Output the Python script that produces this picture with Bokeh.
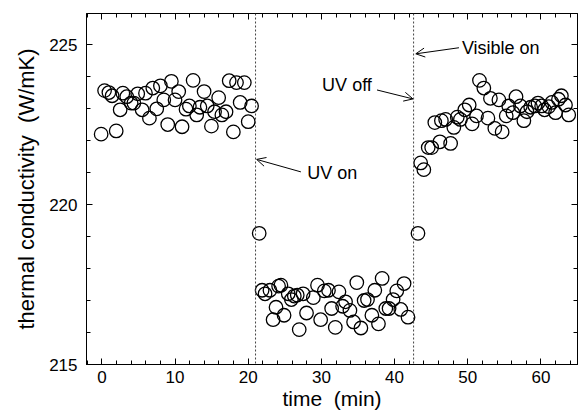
from bokeh.plotting import figure
from bokeh.models import (Range1d, LinearAxis, SingleIntervalTicker, Span, Arrow,
                          OpenHead, Label, ColumnDataSource, CustomJSTickFormatter)
from bokeh.embed import file_html
from bokeh.resources import INLINE

# ---- data ----
time_min = [
    -0.1, 0.37, 0.96, 1.4, 1.96, 2.5, 2.87, 3.4, 4.0, 4.37, 4.9, 5.5, 5.96, 6.5, 6.96,
    7.5, 8.0, 8.46, 9.0, 9.5, 10.0, 10.5, 10.96, 11.5, 11.96, 12.47, 12.96, 13.4, 13.97,
    14.4, 14.97, 15.4, 15.96, 16.4, 16.97, 17.4, 17.97, 18.4, 18.9, 19.47, 20.0, 20.46,
    21.5,
    21.9, 22.3, 22.97, 23.4, 23.8, 24.15, 24.47, 24.9, 25.47, 25.9, 26.3, 26.7, 26.97,
    27.5, 27.97, 28.9, 29.47, 29.9, 30.4, 30.97, 31.4, 31.9, 32.4, 32.9, 33.3, 33.9,
    34.4, 34.84, 35.4, 35.84, 36.3, 36.9, 37.3, 37.8, 38.3, 38.8, 39.25, 39.8, 40.3,
    40.85, 41.3, 41.84,
    43.2,
    43.57, 44.0, 44.6, 45.07, 45.5, 46.2, 46.4, 46.98, 47.66, 48.1, 48.57, 49.0, 49.6,
    50.2, 50.6, 51.2, 51.6, 52.2, 52.76, 53.1, 53.7, 54.26, 54.7, 55.26, 55.6, 56.17,
    56.6, 57.2, 57.67, 58.1, 58.6, 59.17, 59.6, 60.1, 60.5, 61.07, 61.5, 62.0, 62.4,
    62.8, 63.36, 63.8,
]
conductivity = [
    222.2, 223.56, 223.5, 223.4, 222.3, 222.96, 223.48, 223.37, 223.17, 223.17, 223.46,
    222.96, 223.48, 222.7, 223.64, 222.99, 223.71, 223.27, 222.5, 223.85, 223.27, 223.53,
    222.43, 222.98, 223.08, 223.88, 222.8, 223.04, 223.53, 223.08, 222.45, 222.9, 223.34,
    222.8, 222.9, 223.87, 222.27, 223.81, 223.19, 223.81, 222.59, 223.08,
    219.1,
    217.32, 217.21, 217.32, 216.4, 216.79, 217.45, 217.48, 216.54, 217.21, 217.03, 217.14,
    217.17, 216.09, 217.21, 216.61, 217.09, 217.48, 216.4, 217.3, 217.32, 216.75, 216.16,
    217.27, 216.82, 216.96, 216.69, 216.33, 217.56, 216.14, 217.0, 217.03, 216.54, 217.32,
    216.27, 217.69, 216.75, 216.75, 217.03, 217.3, 216.72, 217.53, 216.48,
    219.1,
    221.3, 221.09, 221.78, 221.78, 222.56, 221.96, 222.62, 222.66, 221.91, 222.41, 222.73,
    222.66, 222.96, 223.11, 222.52, 222.77, 223.88, 223.64, 222.7, 223.32, 222.38, 223.27,
    222.27, 222.77, 223.08, 222.87, 223.37, 223.08, 222.62, 222.9, 223.04, 223.08, 223.17,
    223.08, 222.96, 223.06, 223.19, 222.87, 223.29, 223.4, 223.11, 222.8,
]
event_times = [21.0, 42.6]
annotation_texts = ["UV on", "UV off", "Visible on"]
annotation_text_pos = [(28.07, 220.97), (30.1, 223.74), (49.2, 224.9)]
arrow_starts = [(27.2, 221.02), (37.6, 223.58), (48.8, 224.9)]
arrow_ends = [(21.15, 221.41), (42.52, 223.30), (42.9, 224.71)]
x_label = "time\u00a0\u00a0(min)"
y_label = "thermal conductivity\u00a0\u00a0(W/mK)"

FONT = "Liberation Sans"

p = figure(width=580, height=414, output_backend="svg", toolbar_location=None,
           x_range=Range1d(-2.1, 65.0), y_range=Range1d(215, 225.97),
           min_border_left=86, min_border_top=13, min_border_right=3, min_border_bottom=50,
           x_axis_label=x_label, y_axis_label=y_label)
p.xgrid.visible = False
p.ygrid.visible = False
p.outline_line_color = "black"
p.outline_line_width = 1
p.background_fill_color = "white"
p.border_fill_color = "white"

p.xaxis.ticker = SingleIntervalTicker(interval=10, num_minor_ticks=5)
p.yaxis.ticker = SingleIntervalTicker(interval=5, num_minor_ticks=5)

for ax in p.xaxis + p.yaxis:
    ax.major_tick_in = 6
    ax.major_tick_out = 0
    ax.minor_tick_in = 4
    ax.minor_tick_out = 0
    ax.axis_line_color = "black"
    ax.major_tick_line_color = "black"
    ax.minor_tick_line_color = "black"
    ax.major_label_text_font = FONT
    ax.major_label_text_font_size = "17px"
    ax.major_label_text_color = "black"
    ax.axis_label_text_font = FONT
    ax.axis_label_text_font_style = "normal"
    ax.axis_label_text_color = "black"
    ax.axis_label_text_font_size = "22px"

p.xaxis.major_label_standoff = 6
p.xaxis.axis_label_standoff = 1
p.xaxis.axis_label_text_font_size = "21px"
p.yaxis.major_label_standoff = 9
p.yaxis.axis_label_standoff = 7

# mirrored axes (top, right) with ticks only
blank = CustomJSTickFormatter(code="return ''")
top = LinearAxis(ticker=SingleIntervalTicker(interval=10, num_minor_ticks=5), formatter=blank)
right = LinearAxis(ticker=SingleIntervalTicker(interval=5, num_minor_ticks=5), formatter=blank)
for ax in (top, right):
    ax.major_tick_in = 6
    ax.major_tick_out = 0
    ax.minor_tick_in = 4
    ax.minor_tick_out = 0
    ax.major_label_standoff = 0
    ax.axis_line_color = "black"
    ax.major_tick_line_color = "black"
    ax.minor_tick_line_color = "black"
p.add_layout(top, "above")
p.add_layout(right, "right")

# event lines
for t in event_times:
    p.add_layout(Span(location=t, dimension="height", line_color="#444444",
                      line_dash="2 2", line_width=1))

# data
src = ColumnDataSource(dict(x=time_min, y=conductivity))
p.scatter("x", "y", source=src, marker="circle", size=13.5, fill_color=None,
          line_color="black", line_width=1.3)

# annotations
for txt, (tx, ty), (sx, sy), (ex, ey) in zip(annotation_texts, annotation_text_pos,
                                               arrow_starts, arrow_ends):
    p.add_layout(Arrow(end=OpenHead(size=9, line_width=1, line_color="black"),
                       x_start=sx, y_start=sy, x_end=ex, y_end=ey,
                       line_color="black", line_width=1))
    p.add_layout(Label(x=tx, y=ty, text=txt, text_font=FONT, text_font_size="18px",
                       text_baseline="middle", text_align="left", text_color="black"))

open("out.html", "w").write(file_html(p, INLINE))
